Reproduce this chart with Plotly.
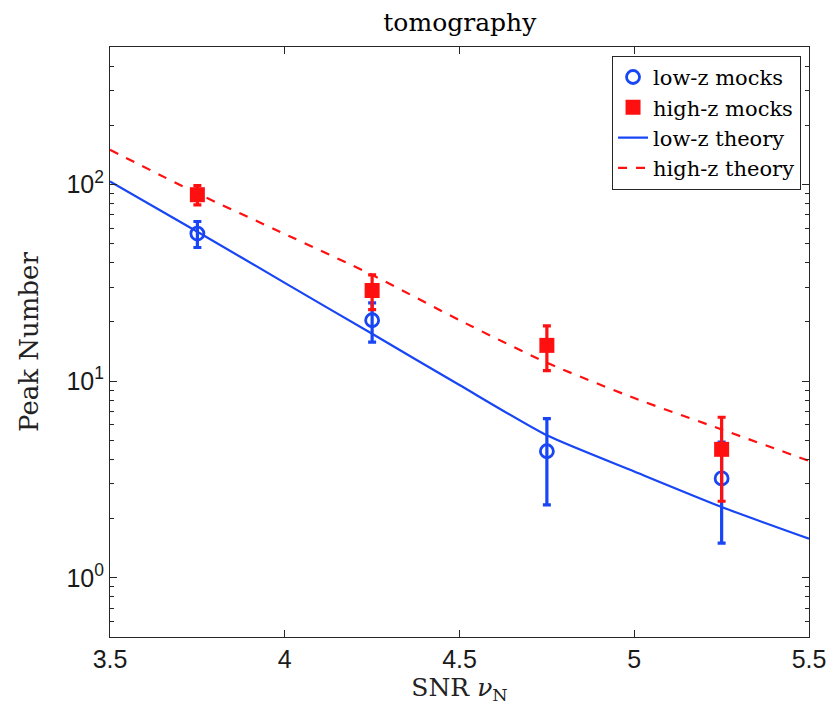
import plotly.graph_objects as go

# mock data
snr_mocks = [3.75, 4.25, 4.75, 5.25]
lowz_mocks = [56.3, 20.4, 4.4, 3.2]
lowz_err = [8.5, 4.6, 2.05, 1.7]
highz_mocks = [88.7, 28.9, 15.2, 4.5]
highz_err = [10.0, 5.8, 3.9, 2.05]

# theory curves
snr_theory = [3.5, 3.75, 4.0, 4.25, 4.5, 4.75, 5.0, 5.25, 5.5]
lowz_theory = [103.5, 57.5, 31.6, 17.4, 9.55, 5.3, 3.47, 2.29, 1.58]
highz_theory = [150, 90, 56, 34.7, 20.4, 12.4, 8.2, 5.68, 3.93]

# tick labels
x_ticks = [3.5, 4, 4.5, 5, 5.5]
x_ticklabels = ["3.5", "4", "4.5", "5", "5.5"]
y_ticks = [1, 10, 100]
y_ticklabels = ["10<sup>0</sup>", "10<sup>1</sup>", "10<sup>2</sup>"]
y_minor = [0.6, 0.7, 0.8, 0.9, 2, 3, 4, 5, 6, 7, 8, 9, 20, 30, 40, 50, 60, 70, 80, 90, 200, 300, 400]

BLUE = "#1846f5"
RED = "#ff1010"
AX = "#262626"
SERIF = "DejaVu Serif, Liberation Serif, serif"
SANS = "Liberation Sans, Arial, sans-serif"

fig = go.Figure()
fig.add_trace(go.Scatter(
    x=snr_mocks, y=lowz_mocks, mode="markers", name="low-z mocks",
    marker=dict(symbol="circle-open", size=13, color=BLUE, line=dict(width=2.8, color=BLUE)),
    error_y=dict(type="data", array=lowz_err, color=BLUE, thickness=3.2, width=4),
))
fig.add_trace(go.Scatter(
    x=snr_mocks, y=highz_mocks, mode="markers", name="high-z mocks",
    marker=dict(symbol="square", size=15, color=RED),
    error_y=dict(type="data", array=highz_err, color=RED, thickness=3.2, width=4),
))
fig.add_trace(go.Scatter(
    x=snr_theory, y=lowz_theory, mode="lines", name="low-z theory",
    line=dict(color=BLUE, width=2.2, shape="spline", smoothing=0.6),
))
fig.add_trace(go.Scatter(
    x=snr_theory, y=highz_theory, mode="lines", name="high-z theory",
    line=dict(color=RED, width=2.2, dash="dash", shape="spline", smoothing=0.6),
))

fig.update_layout(
    width=829, height=706,
    margin=dict(l=102, r=28, t=39, b=77, autoexpand=False),
    paper_bgcolor="white", plot_bgcolor="white",
    title=dict(text="tomography", x=0.545, xanchor="center", y=0.98, yanchor="middle",
               font=dict(family=SERIF, size=25, color="black")),
    showlegend=True,
    legend=dict(x=0.9886, y=0.985, xanchor="right", yanchor="top",
                bgcolor="white", bordercolor=AX, borderwidth=1,
                font=dict(family=SERIF, size=21, color="black"),
                tracegroupgap=0, itemwidth=30),
)
fig.update_xaxes(
    range=[3.5, 5.5], tickvals=x_ticks, ticktext=x_ticklabels, automargin=False,
    ticks="inside", ticklen=7, tickcolor=AX, showline=True, linecolor=AX, linewidth=1,
    mirror="ticks", showgrid=False, zeroline=False,
    tickfont=dict(family=SANS, size=25, color="#1a1a1a"),
    title=dict(text="SNR <i>ν</i><sub>N</sub>", font=dict(family=SERIF, size=25, color="#222"), standoff=0),
)
fig.update_yaxes(
    type="log", range=[-0.30103, 2.69897], automargin=False,
    tickvals=y_ticks, ticktext=y_ticklabels,
    ticks="inside", ticklen=7, tickcolor=AX, showline=True, linecolor=AX, linewidth=1,
    mirror="ticks", showgrid=False, zeroline=False,
    tickfont=dict(family=SANS, size=25, color="#1a1a1a"),
    minor=dict(ticks="inside", ticklen=4, tickcolor=AX, showgrid=False, tickvals=y_minor),
    title=dict(text="Peak Number", font=dict(family=SERIF, size=26, color="#222"), standoff=20),
)

fig.write_html("out.html")
